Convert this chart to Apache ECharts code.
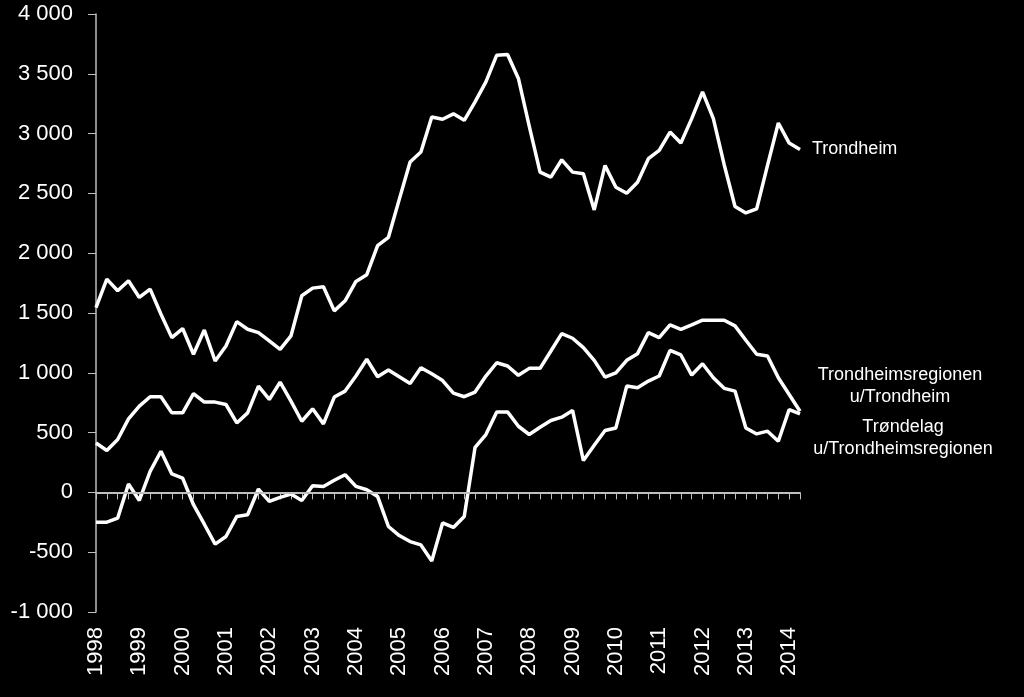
<!DOCTYPE html>
<html>
<head>
<meta charset="utf-8">
<script src="https://cdn.jsdelivr.net/npm/echarts@6/dist/echarts.min.js"></script>
<style>
html,body{margin:0;padding:0;background:#000;}
#chart{width:1024px;height:697px;}
</style>
</head>
<body>
<div id="chart"></div>
<script>
// Quarterly series, 1998 K1 .. 2014 K2
const years = [1998,1999,2000,2001,2002,2003,2004,2005,2006,2007,2008,2009,2010,2011,2012,2013,2014];
const quartersInLastYear = 2;

const trondheim = [
  1545,1783,1686,1769, 1630,1700,1490,1294, 1370,1155,1358,1099, 1224,1428,1364,1336,
  1266,1196,1308,1644, 1708,1719,1518,1602, 1764,1820,2063,2133, 2450,2762,2846,3139,
  3120,3165,3111,3265, 3432,3656,3662,3461, 3063,2678,2636,2781, 2678,2664,2362,2734,
  2552,2502,2594,2790, 2860,3013,2921,3125, 3349,3125,2740,2390, 2337,2371,2734,3089,
  2921,2868
];
const regionen = [
  413,350,442,615, 721,800,800,665, 665,825,755,755, 735,581,665,889,
  777,922,763,595, 699,573,797,847, 973,1113,967,1023, 967,911,1042,992,
  935,830,800,839, 973,1084,1057,979, 1037,1037,1182,1328, 1289,1210,1104,964,
  1000,1104,1160,1336, 1294,1400,1364,1400, 1440,1440,1440,1392, 1272,1155,1140,959,
  819,679
];
const trondelag = [
  -249,-249,-215,70, -67,176,344,154, 120,-103,-266,-433, -369,-201,-187,28,
  -75,-42,-14,-67, 56,50,101,148, 50,22,-34,-285, -361,-411,-439,-573,
  -255,-293,-201,377, 484,673,673,553, 484,545,601,629, 685,266,394,517,
  539,889,875,931, 973,1188,1149,981, 1076,959,870,847, 539,489,512,428,
  693,657
];
const seriesNames = ['Trondheim', 'Trondheimsregionen\nu/Trondheim', 'Trøndelag\nu/Trondheimsregionen'];
const yTicks = { min: -1000, max: 4000, interval: 500 };

const categories = [];
years.forEach((y, yi) => {
  const nq = yi === years.length - 1 ? quartersInLastYear : 4;
  for (let q = 1; q <= nq; q++) categories.push(y + 'K' + q);
});

const FONT = '"Liberation Sans", Arial, sans-serif';
const fmt = v => {
  const s = String(Math.abs(v)).replace(/\B(?=(\d{3})+(?!\d))/g, ' ');
  return (v < 0 ? '-' : '') + s;
};

function endMark(data, labelCfg) {
  const last = data.length - 1;
  return {
    symbol: 'circle', symbolSize: 0, silent: true,
    data: [{ coord: [last, data[last]] }],
    label: Object.assign({ show: true, color: '#fff', fontSize: 18, fontFamily: FONT, lineHeight: 22 }, labelCfg)
  };
}

const lineStyle = { color: '#fff', width: 3.5 };

const option = {
  backgroundColor: '#000',
  animation: false,
  grid: { left: 96, right: 224, top: 14, bottom: 85 },
  xAxis: {
    type: 'category',
    data: categories,
    boundaryGap: false,
    axisLine: { lineStyle: { color: '#bfbfbf', width: 1.5 } },
    axisTick: { show: true, interval: 0, length: 7, lineStyle: { color: '#bfbfbf', width: 1 } },
    axisLabel: {
      interval: 3, rotate: 90, margin: 15, color: '#fff', fontSize: 22, fontFamily: FONT,
      formatter: v => v.slice(0, 4)
    },
    splitLine: { show: false }
  },
  yAxis: {
    type: 'value',
    min: yTicks.min, max: yTicks.max, interval: yTicks.interval,
    axisLine: { show: true, lineStyle: { color: '#bfbfbf', width: 1.5 } },
    axisTick: { show: true, length: 8, lineStyle: { color: '#bfbfbf', width: 1 } },
    axisLabel: { color: '#fff', fontSize: 22, fontFamily: FONT, margin: 23, formatter: fmt },
    splitLine: { show: false }
  },
  series: [
    {
      name: seriesNames[0], type: 'line', data: trondheim, showSymbol: false,
      lineStyle, itemStyle: { color: '#fff' },
      markPoint: endMark(trondheim, { position: 'right', distance: 12, formatter: seriesNames[0] }),
      markLine: {
        silent: true, symbol: 'none',
        data: [{ yAxis: 0 }],
        lineStyle: { color: '#bfbfbf', width: 2, type: 'solid' },
        label: { show: false }
      }
    },
    {
      name: seriesNames[1], type: 'line', data: regionen, showSymbol: false,
      lineStyle, itemStyle: { color: '#fff' },
      markPoint: endMark(regionen, { position: 'inside', align: 'center', verticalAlign: 'middle', offset: [100, -25], formatter: seriesNames[1] })
    },
    {
      name: seriesNames[2], type: 'line', data: trondelag, showSymbol: false,
      lineStyle, itemStyle: { color: '#fff' },
      markPoint: endMark(trondelag, { position: 'inside', align: 'center', verticalAlign: 'middle', offset: [103, 24], formatter: seriesNames[2] })
    }
  ]
};

const chart = echarts.init(document.getElementById('chart'), null, { renderer: 'canvas' });
chart.setOption(option);
</script>
</body>
</html>
